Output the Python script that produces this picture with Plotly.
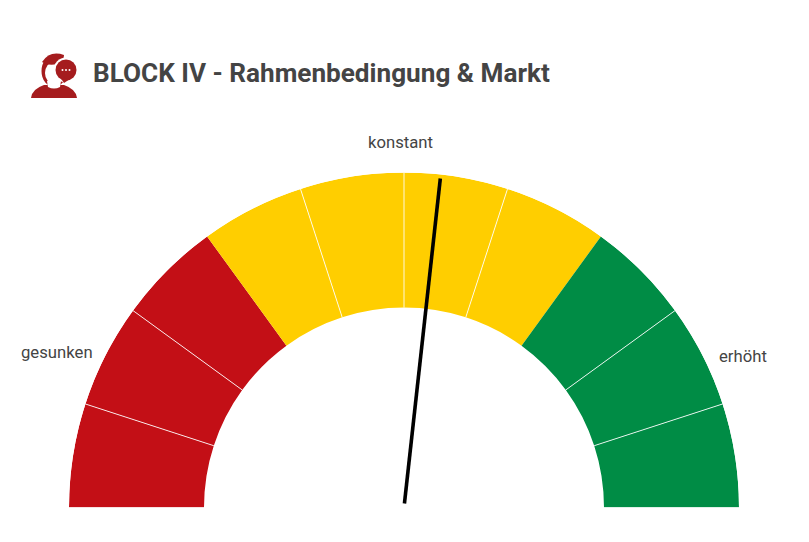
"""Halbkreis-Tacho: BLOCK IV - Rahmenbedingung & Markt."""
import plotly.graph_objects as go

W, H = 809, 542

segment_start = [0, 18, 36, 54, 72, 90, 108, 126, 144, 162]  # Grad von links
segment_colors = ['#C30F16', '#C30F16', '#C30F16',
                  '#FFCE00', '#FFCE00', '#FFCE00', '#FFCE00',
                  '#008C45', '#008C45', '#008C45']
separator_angles = [18, 36, 72, 90, 108, 144, 162]  # Trennlinien innerhalb einer Farbe
needle_value = 96.3  # Grad von links
zone_labels = ['gesunken', 'konstant', 'erhöht']
title_text = 'BLOCK IV - Rahmenbedingung & Markt'

SEG_WIDTH = 18
R_OUTER = 335
R_INNER = 200
RED = '#A51C1E'


def px(x, y):
    """Pixel position to paper coordinates."""
    return x / W, 1 - y / H


def path(points):
    """Closed SVG path through pixel points, given as 'M'/'Q' style tuples."""
    out = []
    for cmd, *vals in points:
        pairs = [px(vals[i], vals[i + 1]) for i in range(0, len(vals), 2)]
        out.append(cmd + ' '.join(f'{a:.5f},{b:.5f}' for a, b in pairs))
    return ' '.join(out) + ' Z'


def circle(cx, cy, rx, ry, color):
    x0, y0 = px(cx - rx, cy - ry)
    x1, y1 = px(cx + rx, cy + ry)
    return dict(type='circle', xref='paper', yref='paper', x0=x0, y0=y0, x1=x1, y1=y1,
                fillcolor=color, line_width=0, layer='above')


def blob(points, color):
    return dict(type='path', xref='paper', yref='paper', path=path(points),
                fillcolor=color, line_width=0, layer='above')


# polar theta runs counter-clockwise from the right, so flip the left-based angles
fig = go.Figure()
fig.add_trace(go.Barpolar(
    theta=[180 - (s + SEG_WIDTH / 2) for s in segment_start],
    width=[SEG_WIDTH] * len(segment_start),
    r=[R_OUTER - R_INNER] * len(segment_start),
    base=[R_INNER] * len(segment_start),
    marker=dict(color=segment_colors, line=dict(width=0)),
    hoverinfo='skip'
))
# None lifts the pen between separators
sep_theta, sep_r = [], []
for angle in separator_angles:
    sep_theta.extend([180 - angle, 180 - angle, None])
    sep_r.extend([R_INNER, R_OUTER, None])
fig.add_trace(go.Scatterpolar(
    theta=sep_theta, r=sep_r,
    mode='lines',
    line=dict(color='rgba(255,255,255,0.85)', width=1),
    hoverinfo='skip'
))
fig.add_trace(go.Scatterpolar(
    theta=[180 - needle_value, 180 - needle_value],
    r=[4, 331],
    mode='lines',
    line=dict(color='#000000', width=3.6),
    hoverinfo='skip'
))

# Icon: person with speech bubble
icon = [
    circle(54, 71, 12.5, 16, RED),
    blob([('M', 31, 98), ('Q', 32, 89, 44, 85), ('L', 64, 85), ('Q', 76, 89, 77, 98)], RED),
    circle(54, 73, 9, 11, '#FFFFFF'),
    blob([('M', 47, 81), ('L', 61, 81), ('L', 60, 87), ('Q', 54, 90, 48, 87)], '#FFFFFF'),
    blob([('M', 42, 62), ('Q', 50, 50, 64, 55), ('L', 63, 63), ('Q', 52, 66, 46, 64)], RED),
    circle(66, 70, 12.5, 12.5, '#FFFFFF'),
    circle(66, 70, 10.5, 10.5, RED),
    blob([('M', 60, 77), ('L', 64, 83), ('L', 70, 79)], RED),
    circle(62.5, 70, 1, 1, '#FFFFFF'),
    circle(66, 70, 1, 1, '#FFFFFF'),
    circle(69.5, 70, 1, 1, '#FFFFFF'),
]

# annotations: text, centre x, centre y in pixels
label_pos = [(57, 352), (400.5, 142), (743, 356)]
annotations = [
    dict(text=t, x=px(x, y)[0], y=px(x, y)[1], xref='paper', yref='paper', showarrow=False,
         xanchor='center', yanchor='middle', font=dict(family='Roboto', size=16.7, color='#444444'))
    for t, (x, y) in zip(zone_labels, label_pos)
]
annotations.append(dict(
    text=f'<b>{title_text}</b>', x=px(91, 73)[0], y=px(91, 73)[1], xref='paper', yref='paper',
    showarrow=False, xanchor='left', yanchor='middle',
    font=dict(family='Roboto', size=26.15, color='#444444')
))

fig.update_layout(
    width=W, height=H,
    margin=dict(l=0, r=0, t=0, b=0),
    paper_bgcolor='white',
    showlegend=False,
    shapes=icon,
    annotations=annotations,
    polar=dict(
        domain=dict(x=[69 / W, 739 / W], y=[1 - 507.5 / H, 1 - 172.5 / H]),
        sector=[0, 180],
        hole=0,
        bgcolor='rgba(0,0,0,0)',
        radialaxis=dict(visible=False, range=[0, R_OUTER]),
        angularaxis=dict(visible=False, direction='counterclockwise', rotation=0),
    ),
)

# default body margin would push the figure 8px off
fig.write_html('out.html', config=dict(displayModeBar=False),
               post_script="document.body.style.margin='0';")
